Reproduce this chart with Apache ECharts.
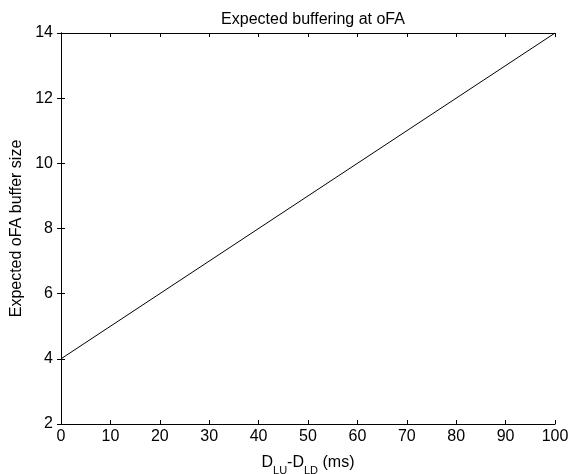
<!DOCTYPE html>
<html><head><meta charset="utf-8">
<script src="https://cdn.jsdelivr.net/npm/echarts@6/dist/echarts.min.js"></script>
<style>html,body{margin:0;padding:0;background:#fff}#c{width:585px;height:474px}</style>
</head><body><div id="c"></div>
<script>
const xValues = [0, 50, 100];
const yValues = [4, 9, 14];
const titleText = 'Expected buffering at oFA';
const yLabel = 'Expected oFA buffer size';

const font = 'Liberation Sans, Arial, Helvetica, sans-serif';
const chart = echarts.init(document.getElementById('c'));
const axisCommon = {
  type: 'value',
  axisLine: {show: true, lineStyle: {color: '#000', width: 1}},
  axisTick: {show: true, inside: true, length: 4, lineStyle: {color: '#000'}},
  splitLine: {show: false}
};
chart.setOption({
  animation: false,
  title: {text: titleText, left: 308, top: 7, textAlign: 'center',
    textStyle: {fontFamily: font, fontSize: 16, fontWeight: 'normal', color: '#000'}},
  grid: {left: 61, right: 30, top: 33, bottom: 50, containLabel: false, outerBoundsMode: 'none'},
  xAxis: [
    Object.assign({}, axisCommon, {min: 0, max: 100, interval: 10, position: 'bottom',
      axisLabel: {color: '#000', fontFamily: font, fontSize: 16, margin: 5},
      name: '{n|D}{s|LU}{n|-D}{s|LD}{n| (ms)}', nameLocation: 'middle', nameGap: 29,
      nameTextStyle: {rich: {
        n: {fontFamily: font, fontSize: 16, color: '#000', verticalAlign: 'bottom', lineHeight: 18},
        s: {fontFamily: font, fontSize: 11, color: '#000', verticalAlign: 'bottom', lineHeight: 11, padding: [0,0,-5,0]}
      }}}),
    Object.assign({}, axisCommon, {min: 0, max: 100, interval: 10, position: 'top',
      axisLabel: {show: false}})
  ],
  yAxis: [
    Object.assign({}, axisCommon, {min: 2, max: 14, interval: 2, position: 'left',
      axisLabel: {color: '#000', fontFamily: font, fontSize: 16, margin: 8},
      name: yLabel, nameLocation: 'middle', nameGap: 33,
      nameTextStyle: {fontFamily: font, fontSize: 16, color: '#000'}}),
    Object.assign({}, axisCommon, {min: 2, max: 14, interval: 2, position: 'right',
      axisLabel: {show: false}})
  ],
  series: [{
    type: 'line', xAxisIndex: 0, yAxisIndex: 0, showSymbol: false,
    lineStyle: {color: '#000', width: 1},
    data: xValues.map((x, i) => [x, yValues[i]])
  }]
});
</script></body></html>
